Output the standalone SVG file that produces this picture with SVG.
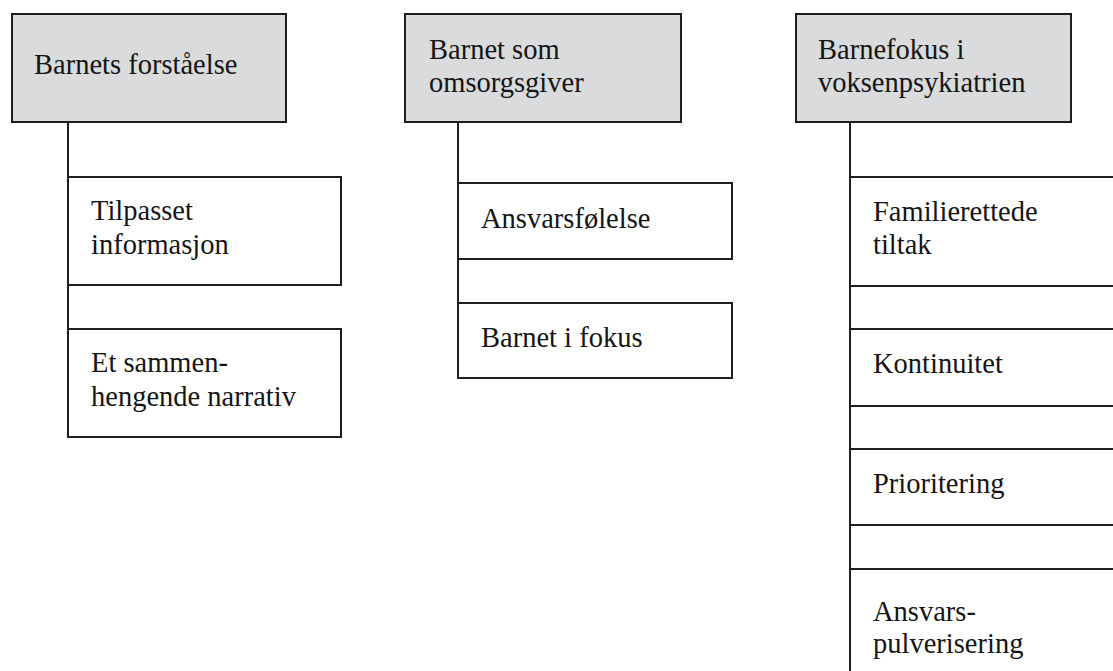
<svg xmlns="http://www.w3.org/2000/svg" width="1113" height="671" viewBox="0 0 1113 671">
<style>
.box{fill:#ffffff;stroke:#1e1e1e;stroke-width:2}
.head{fill:#d9dbdc;stroke:#1e1e1e;stroke-width:2}
.ln{fill:none;stroke:#1e1e1e;stroke-width:2}
</style>
<rect width="1113" height="671" fill="#ffffff"/>
<g id="connectors">
<line class="ln" x1="68" y1="122" x2="68" y2="437"/>
<line class="ln" x1="458" y1="122" x2="458" y2="378"/>
<line class="ln" x1="850" y1="122" x2="850" y2="671"/>
</g>
<g id="n1"><rect class="head" x="12" y="14" width="274" height="108"/><text font-family="Liberation Serif" font-size="28.5" fill="#151515" x="34" y="74">Barnets forståelse</text></g>
<g id="n1a"><rect class="box" x="68" y="177" width="273" height="108"/><text font-family="Liberation Serif" font-size="28.5" fill="#151515" x="91" y="220">Tilpasset</text><text font-family="Liberation Serif" font-size="28.5" fill="#151515" x="91" y="254">informasjon</text></g>
<g id="n1b"><rect class="box" x="68" y="329" width="273" height="108"/><text font-family="Liberation Serif" font-size="28.5" fill="#151515" x="91" y="372">Et sammen-</text><text font-family="Liberation Serif" font-size="28.5" fill="#151515" x="91" y="406">hengende narrativ</text></g>
<g id="n2"><rect class="head" x="405" y="14" width="276" height="108"/><text font-family="Liberation Serif" font-size="28.5" fill="#151515" x="429" y="59">Barnet som</text><text font-family="Liberation Serif" font-size="28.5" fill="#151515" x="429" y="92">omsorgsgiver</text></g>
<g id="n2a"><rect class="box" x="458" y="183" width="274" height="76"/><text font-family="Liberation Serif" font-size="28.5" fill="#151515" x="481" y="228">Ansvarsfølelse</text></g>
<g id="n2b"><rect class="box" x="458" y="303" width="274" height="75"/><text font-family="Liberation Serif" font-size="28.5" fill="#151515" x="481" y="347">Barnet i fokus</text></g>
<g id="n3"><rect class="head" x="796" y="14" width="275" height="108"/><text font-family="Liberation Serif" font-size="28.5" fill="#151515" x="818" y="59">Barnefokus i</text><text font-family="Liberation Serif" font-size="28.5" fill="#151515" x="818" y="92">voksenpsykiatrien</text></g>
<g id="n3a"><rect class="box" x="850" y="177" width="275" height="109"/><text font-family="Liberation Serif" font-size="28.5" fill="#151515" x="873" y="221">Familierettede</text><text font-family="Liberation Serif" font-size="28.5" fill="#151515" x="873" y="254">tiltak</text></g>
<g id="n3b"><rect class="box" x="850" y="329" width="275" height="77"/><text font-family="Liberation Serif" font-size="28.5" fill="#151515" x="873" y="373">Kontinuitet</text></g>
<g id="n3c"><rect class="box" x="850" y="449" width="275" height="76"/><text font-family="Liberation Serif" font-size="28.5" fill="#151515" x="873" y="493">Prioritering</text></g>
<g id="n3d"><rect class="box" x="850" y="569" width="275" height="120"/><text font-family="Liberation Serif" font-size="28.5" fill="#151515" x="873" y="621">Ansvars-</text><text font-family="Liberation Serif" font-size="28.5" fill="#151515" x="873" y="653">pulverisering</text></g>
</svg>
